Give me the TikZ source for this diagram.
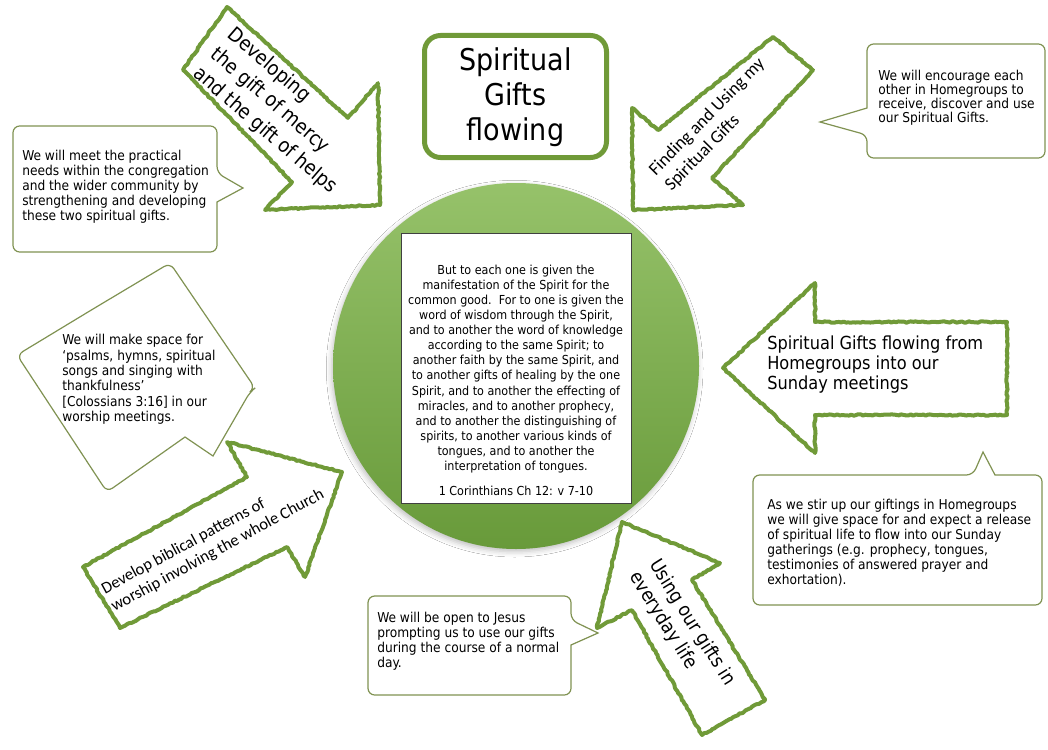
\documentclass[tikz,border=0pt]{standalone}
\usepackage{fontspec}
\setmainfont{DejaVu Sans Condensed}
\newfontfamily\calib{Carlito}
\usetikzlibrary{decorations.pathmorphing,shadows.blur}
\definecolor{agreen}{RGB}{112,154,56}
\definecolor{cgreen}{RGB}{128,146,82}
\definecolor{ctop}{RGB}{150,194,106}
\definecolor{cbot}{RGB}{104,154,58}
\tikzset{
  chalk/.style={draw=agreen, line width=3pt, fill=white, line join=round,
    decorate, decoration={random steps, segment length=1.8pt, amplitude=0.5pt}},
  callout/.style={draw=cgreen, line width=0.9pt, fill=white, rounded corners=5pt},
  ctext/.style={font=\fontsize{10.2}{11.3}\selectfont, align=left, inner sep=0pt, anchor=west},
  atext/.style={align=left, inner sep=0pt},
}
\begin{document}
\begin{tikzpicture}[x=0.75pt,y=-0.75pt]
\useasboundingbox[fill=white] (0,0) rectangle (1048,749);

% central circle
\node[circle, minimum size=274.5pt, inner sep=0pt, top color=ctop, bottom color=cbot,
  blur shadow={shadow xshift=-1pt, shadow yshift=-2pt, shadow blur radius=4pt, shadow opacity=25}] (hub) at (516,366) {};
\node[draw=black!75, line width=0.6pt, fill=white, minimum width=172.5pt, minimum height=202.5pt, inner sep=0pt] (versebox) at (516,368) {};
\node[align=center, inner sep=0pt, font=\fontsize{9.3}{11.3}\selectfont] (verse) at (516,369)
 {But to each one is given the\\manifestation of the Spirit for the\\common good.\ \ For to one is given the\\word of wisdom through the Spirit,\\and to another the word of knowledge\\according to the same Spirit; to\\another faith by the same Spirit, and\\to another gifts of healing by the one\\Spirit, and to another the effecting of\\miracles, and to another prophecy,\\and to another the distinguishing of\\spirits, to another various kinds of\\tongues, and to another the\\interpretation of tongues.};
\node[inner sep=0pt, font=\fontsize{9.3}{11.3}\selectfont] (ref) at (516,491) {1 Corinthians Ch 12: v 7-10};

% title box
\draw[draw=agreen, line width=3.75pt, rounded corners=12pt] (424.5,35.5) rectangle (606.5,157.5);
\node[align=center, inner sep=0pt, font=\fontsize{22.5}{26.25}\selectfont] (title) at (515.5,97) {Spiritual\\Gifts\\flowing};

% callouts
\draw[callout] (115,126) -- (217,126) -- (217,173) [sharp corners] -- (243,188) -- (217,202) [rounded corners=5pt] -- (217,252) -- (13,252) -- (13,126) -- cycle;
\draw[callout] (956,44) -- (1045,44) -- (1045,158) -- (867,158) -- (867,135) [sharp corners] -- (820,122) -- (867,108) [rounded corners=5pt] -- (867,44) -- cycle;
\draw[callout] (93,309) -- (170,263) -- (255,388) -- (250,392) [sharp corners] -- (213,456) -- (185,437) [rounded corners=5pt] -- (107,492) -- (17,355) -- cycle;
\draw[callout] (470,596) -- (571,596) -- (571,620) [sharp corners] -- (598,633) -- (571,645) [rounded corners=5pt] -- (571,695) -- (368,695) -- (368,596) -- cycle;
\draw[callout] (753,540) -- (753,475) -- (973,475) [sharp corners] -- (983,452) -- (995,475) [rounded corners=5pt] -- (1042,475) -- (1042,605) -- (753,605) -- cycle;

% block arrows
\draw[chalk] (227,7) -- (348,118) -- (378,83) -- (380,205) -- (265,210) -- (292,182) -- (183,70) -- cycle;
\draw[chalk] (773,37) -- (813,70) -- (712,178) -- (743,205) -- (633,210) -- (632,108) -- (658,130) -- cycle;
\draw[chalk] (83,567) -- (247,477) -- (227,442) -- (342,472) -- (305,577) -- (287,547) -- (120,628) -- cycle;
\draw[chalk] (622,522) -- (720,563) -- (692,580) -- (765,700) -- (702,735) -- (632,610) -- (597,628) -- cycle;
\draw[chalk] (723,368) -- (815,283) -- (815,322) -- (1007,322) -- (1007,415) -- (815,415) -- (815,453) -- cycle;

% callout texts
\node[ctext] (t1) at (22,186.5) {We will meet the practical\\needs within the congregation\\and the wider community by\\strengthening and developing\\these two spiritual gifts.};
\node[ctext, font=\fontsize{10.2}{10.6}\selectfont] (t2) at (878,98) {We will encourage each\\other in Homegroups to\\receive, discover and use\\our Spiritual Gifts.};
\node[ctext, font=\fontsize{10.2}{11.6}\selectfont] (t3) at (62,379.5) {We will make space for\\‘psalms, hymns, spiritual\\songs and singing with\\thankfulness’\\{}[Colossians 3:16] in our\\worship meetings.};
\node[ctext] (t4) at (377,641) {We will be open to Jesus\\prompting us to use our gifts\\during the course of a normal\\day.};
\node[ctext] (t5) at (767,542.5) {As we stir up our giftings in Homegroups\\we will give space for and expect a release\\of spiritual life to flow into our Sunday\\gatherings (e.g. prophecy, tongues,\\testimonies of answered prayer and\\exhortation).};

% arrow texts
\node[atext, rotate=-40.7, font=\fontsize{15}{19.5}\selectfont] (l1) at (282,111) {Developing\\the gift of mercy\\and the gift of helps};
\node[atext, rotate=45.4, font=\calib\fontsize{13.5}{16.5}\selectfont] (l2) at (715,125) {Finding and Using my\\Spiritual Gifts};
\node[atext, rotate=28.5, font=\calib\fontsize{12.4}{15}\selectfont] (l3) at (213,542) {Develop biblical patterns of\\worship involving the whole Church};
\node[atext, rotate=-58, font=\fontsize{14.25}{17.6}\selectfont] (l4) at (682,629) {Using our gifts in\\everyday life};
\node[atext, anchor=west, font=\fontsize{13.5}{15}\selectfont] (l5) at (767,365) {Spiritual Gifts flowing from\\Homegroups into our\\Sunday meetings};
\end{tikzpicture}
\end{document}
